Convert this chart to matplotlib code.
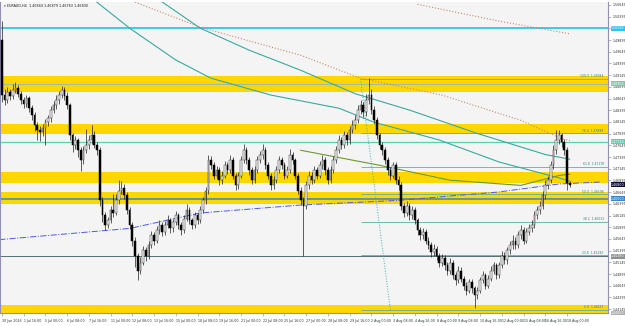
import numpy as np
import matplotlib
matplotlib.use('Agg')
import matplotlib.pyplot as plt
import matplotlib.transforms as mtransforms

# EURAUD H4 candles (30 Jun 2016 08:00 .. 18 Aug 2016 04:00)
closes = [1.4872, 1.4861, 1.4878, 1.4870, 1.4882, 1.4887, 1.4874, 1.4861, 1.4852, 1.4865,
          1.4844, 1.4829, 1.4808, 1.4797, 1.4793, 1.4801, 1.4814, 1.4822, 1.4840, 1.4850,
          1.4861, 1.4872, 1.4882, 1.4870, 1.4850, 1.4786, 1.4765, 1.4775, 1.4754, 1.4733,
          1.4754, 1.4765, 1.4775, 1.4786, 1.4765, 1.4754, 1.4647, 1.4615, 1.4594, 1.4604,
          1.4626, 1.4621, 1.4647, 1.4668, 1.4673, 1.4658, 1.4626, 1.4594, 1.4561, 1.4529,
          1.4497, 1.4514, 1.4540, 1.4529, 1.4551, 1.4572, 1.4561, 1.4583, 1.4594, 1.4579,
          1.4594, 1.4604, 1.4587, 1.4600, 1.4615, 1.4594, 1.4583, 1.4608, 1.4626, 1.4604,
          1.4594, 1.4615, 1.4604, 1.4626, 1.4647, 1.4668, 1.4733, 1.4722, 1.4700, 1.4711,
          1.4690, 1.4700, 1.4722, 1.4711, 1.4733, 1.4700, 1.4679, 1.4700, 1.4733, 1.4754,
          1.4733, 1.4711, 1.4690, 1.4711, 1.4733, 1.4743, 1.4754, 1.4722, 1.4700, 1.4679,
          1.4690, 1.4711, 1.4733, 1.4722, 1.4700, 1.4711, 1.4743, 1.4733, 1.4700, 1.4668,
          1.4647, 1.4636, 1.4679, 1.4700, 1.4690, 1.4711, 1.4700, 1.4722, 1.4733, 1.4711,
          1.4690, 1.4711, 1.4733, 1.4754, 1.4775, 1.4765, 1.4786, 1.4775, 1.4797, 1.4808,
          1.4818, 1.4840, 1.4850, 1.4835, 1.4861, 1.4872, 1.4840, 1.4818, 1.4786, 1.4765,
          1.4754, 1.4733, 1.4711, 1.4700, 1.4722, 1.4690, 1.4679, 1.4636, 1.4621, 1.4636,
          1.4615, 1.4626, 1.4604, 1.4583, 1.4572, 1.4579, 1.4561, 1.4551, 1.4536, 1.4544,
          1.4529, 1.4514, 1.4523, 1.4508, 1.4497, 1.4514, 1.4487, 1.4476, 1.4497, 1.4480,
          1.4465, 1.4454, 1.4472, 1.4459, 1.4444, 1.4454, 1.4476, 1.4487, 1.4465, 1.4480,
          1.4497, 1.4508, 1.4487, 1.4508, 1.4529, 1.4519, 1.4540, 1.4551, 1.4561, 1.4551,
          1.4572, 1.4583, 1.4561, 1.4579, 1.4587, 1.4594, 1.4615, 1.4626, 1.4636, 1.4658,
          1.4679, 1.4690, 1.4722, 1.4754, 1.4775, 1.4786, 1.4771, 1.4754, 1.46844, 1.46800]
highs = [1.5030, 1.4885, 1.4890, 1.4886, 1.4895, 1.4899, 1.4893, 1.4880, 1.4868, 1.4872,
         1.4870, 1.4850, 1.4835, 1.4814, 1.4805, 1.4810, 1.4820, 1.4830, 1.4848, 1.4860,
         1.4872, 1.4880, 1.4892, 1.4890, 1.4878, 1.4855, 1.4792, 1.4784, 1.4780, 1.4760,
         1.4763, 1.4800, 1.4786, 1.4808, 1.4795, 1.4772, 1.4760, 1.4655, 1.4622, 1.4612,
         1.4635, 1.4660, 1.4660, 1.4690, 1.4688, 1.4682, 1.4665, 1.4632, 1.4600, 1.4568,
         1.4535, 1.4525, 1.4550, 1.4548, 1.4560, 1.4582, 1.4580, 1.4592, 1.4604, 1.4600,
         1.4602, 1.4615, 1.4610, 1.4608, 1.4625, 1.4620, 1.4600, 1.4616, 1.4640, 1.4632,
         1.4610, 1.4622, 1.4620, 1.4634, 1.4655, 1.4676, 1.4745, 1.4742, 1.4730, 1.4720,
         1.4718, 1.4710, 1.4732, 1.4728, 1.4745, 1.4740, 1.4706, 1.4708, 1.4742, 1.4768,
         1.4760, 1.4740, 1.4718, 1.4720, 1.4742, 1.4752, 1.4768, 1.4760, 1.4728, 1.4706,
         1.4698, 1.4720, 1.4742, 1.4740, 1.4728, 1.4720, 1.4756, 1.4750, 1.4738, 1.4706,
         1.4675, 1.4654, 1.4688, 1.4710, 1.4708, 1.4720, 1.4718, 1.4732, 1.4744, 1.4740,
         1.4718, 1.4720, 1.4742, 1.4764, 1.4786, 1.4782, 1.4796, 1.4794, 1.4806, 1.4818,
         1.4830, 1.4850, 1.4862, 1.4858, 1.4874, 1.4908, 1.4885, 1.4848, 1.4825, 1.4792,
         1.4772, 1.4760, 1.4740, 1.4718, 1.4730, 1.4728, 1.4698, 1.4686, 1.4642, 1.4645,
         1.4642, 1.4634, 1.4632, 1.4610, 1.4590, 1.4588, 1.4586, 1.4568, 1.4558, 1.4553,
         1.4550, 1.4535, 1.4532, 1.4530, 1.4515, 1.4524, 1.4520, 1.4494, 1.4506, 1.4504,
         1.4486, 1.4472, 1.4480, 1.4478, 1.4465, 1.4462, 1.4484, 1.4496, 1.4492, 1.4488,
         1.4506, 1.4516, 1.4514, 1.4516, 1.4538, 1.4536, 1.4548, 1.4560, 1.4572, 1.4568,
         1.4582, 1.4594, 1.4590, 1.4588, 1.4596, 1.4604, 1.4624, 1.4635, 1.4646, 1.4668,
         1.4690, 1.4700, 1.4732, 1.4765, 1.4797, 1.4797, 1.4792, 1.4778, 1.4760, 1.46879]
lows = [1.4858, 1.4850, 1.4855, 1.4862, 1.4864, 1.4876, 1.4868, 1.4853, 1.4845, 1.4847,
        1.4836, 1.4819, 1.4795, 1.4776, 1.4773, 1.4785, 1.4766, 1.4806, 1.4815, 1.4833,
        1.4843, 1.4852, 1.4865, 1.4862, 1.4842, 1.4777, 1.4750, 1.4757, 1.4740, 1.4710,
        1.4725, 1.4748, 1.4757, 1.4768, 1.4758, 1.4745, 1.4636, 1.4600, 1.4583, 1.4588,
        1.4598, 1.4612, 1.4615, 1.4640, 1.4660, 1.4650, 1.4618, 1.4585, 1.4550, 1.4505,
        1.4476, 1.4490, 1.4508, 1.4518, 1.4522, 1.4545, 1.4552, 1.4556, 1.4576, 1.4570,
        1.4572, 1.4588, 1.4578, 1.4580, 1.4594, 1.4586, 1.4574, 1.4578, 1.4602, 1.4596,
        1.4585, 1.4588, 1.4596, 1.4598, 1.4620, 1.4640, 1.4660, 1.4714, 1.4692, 1.4693,
        1.4680, 1.4683, 1.4695, 1.4703, 1.4705, 1.4692, 1.4670, 1.4672, 1.4694, 1.4727,
        1.4725, 1.4702, 1.4682, 1.4684, 1.4705, 1.4726, 1.4736, 1.4714, 1.4692, 1.4670,
        1.4672, 1.4684, 1.4705, 1.4714, 1.4692, 1.4694, 1.4705, 1.4725, 1.4692, 1.4660,
        1.4638, 1.4529, 1.4628, 1.4672, 1.4682, 1.4684, 1.4692, 1.4694, 1.4715, 1.4702,
        1.4682, 1.4684, 1.4705, 1.4726, 1.4748, 1.4757, 1.4758, 1.4766, 1.4768, 1.4790,
        1.4800, 1.4812, 1.4832, 1.4826, 1.4828, 1.4852, 1.4832, 1.4810, 1.4778, 1.4757,
        1.4745, 1.4724, 1.4702, 1.4690, 1.4694, 1.4682, 1.4670, 1.4626, 1.4612, 1.4614,
        1.4606, 1.4608, 1.4596, 1.4574, 1.4563, 1.4565, 1.4553, 1.4542, 1.4527, 1.4529,
        1.4520, 1.4505, 1.4507, 1.4499, 1.4488, 1.4490, 1.4478, 1.4466, 1.4470, 1.4472,
        1.4456, 1.4445, 1.4448, 1.4450, 1.4418, 1.4436, 1.4448, 1.4470, 1.4458, 1.4460,
        1.4474, 1.4490, 1.4480, 1.4482, 1.4502, 1.4510, 1.4512, 1.4533, 1.4544, 1.4542,
        1.4545, 1.4565, 1.4553, 1.4555, 1.4572, 1.4580, 1.4588, 1.4608, 1.4618, 1.4628,
        1.4650, 1.4671, 1.4684, 1.4715, 1.4746, 1.4768, 1.4762, 1.4745, 1.4669, 1.46763]
first_open = 1.4990

time_labels = ['30 Jun 2016', '1 Jul 16:00', '5 Jul 00:00', '6 Jul 08:00', '7 Jul 16:00',
               '11 Jul 00:00', '12 Jul 08:00', '13 Jul 16:00', '15 Jul 00:00', '18 Jul 08:00',
               '19 Jul 16:00', '21 Jul 00:00', '22 Jul 08:00', '25 Jul 16:00', '27 Jul 00:00',
               '28 Jul 08:00', '29 Jul 16:00', '2 Aug 00:00', '3 Aug 08:00', '4 Aug 16:00',
               '8 Aug 00:00', '9 Aug 08:00', '10 Aug 16:00', '12 Aug 00:00', '15 Aug 08:00',
               '16 Aug 16:00', '18 Aug 00:00']

# horizontal levels
cyan_level = 1.5015
blue_level = 1.4650
teal_level = 1.4772
green_level = 1.4896
gray_level = 1.4528
zones = [(1.4879, 1.4913), (1.4788, 1.4810), (1.4684, 1.4707), (1.4639, 1.4665), (1.4407, 1.4424)]

# fibonacci retracement (1 Aug high -> 10 Aug low)
fib_ratios = ['100.0', '76.4', '61.8', '50.0', '38.2', '23.6', '0.0']
fib_prices = [1.49064, 1.47899, 1.47178, 1.46596, 1.46013, 1.45292, 1.44127]
fib_start = 132
fib_diag_x = [132, 143]
fib_diag_y = [1.4906, 1.4413]

# moving averages (bar index, price)
ma1_x = [34, 47, 64, 77, 99, 124, 137, 161, 183, 205, 209]
ma1_y = [1.5075, 1.5015, 1.4947, 1.4908, 1.4872, 1.4844, 1.4814, 1.4776, 1.4729, 1.4695, 1.4688]
ma2_x = [58, 73, 91, 110, 130, 150, 175, 200, 209]
ma2_y = [1.5075, 1.5015, 1.4968, 1.4925, 1.4875, 1.4840, 1.4790, 1.4745, 1.4735]
ma3_x = [110, 139, 165, 191, 205, 209]
ma3_y = [1.4754, 1.4722, 1.4690, 1.4679, 1.4700, 1.4703]
ma4_x = [47, 73, 110, 132, 162, 191, 206, 209]
ma4_y = [1.5075, 1.5017, 1.4957, 1.4908, 1.4872, 1.4818, 1.4779, 1.4775]
ma5_x = [153, 183, 209]
ma5_y = [1.5066, 1.5030, 1.5003]
ma6_x = [-1, 47, 73, 110, 146, 183, 205, 220]
ma6_y = [1.4563, 1.4587, 1.4620, 1.4637, 1.4647, 1.4665, 1.4682, 1.4686]

opens = [first_open] + closes[:-1]
o = np.array(opens)
c = np.array(closes)
h = np.array(highs)
l = np.array(lows)
x = np.arange(len(c))

fig = plt.figure(figsize=(6.25, 3.26), dpi=100)
fig.patch.set_facecolor('white')
ax = fig.add_axes([0.0, 13 / 326, 608 / 625, 311 / 326])
ax.set_facecolor('#f4f4f4')

for lo, hi in zones:
    ax.axhspan(lo, hi, color='#ffd700', lw=0, zorder=1)

ax.axhline(cyan_level, color='#33c3f0', lw=1.3, zorder=2)
ax.axhline(green_level, color='#9fbfa0', lw=0.8, zorder=2)
ax.axhline(teal_level, color='#5fcfb0', lw=0.9, zorder=2)
ax.axhline(blue_level, color='#3a86c8', lw=1.1, zorder=2)
ax.axhline(gray_level, color='#507070', lw=0.7, zorder=2)

for r, p in zip(fib_ratios, fib_prices):
    ax.hlines(p, fib_start, 223.1, color='#5fb0a0', lw=0.6, zorder=2)
    ax.text(221.5, p + 0.0002, f'{r}  {p:.5f}', fontsize=2.2, color='#2f7f7f',
            ha='right', va='bottom', zorder=6)
ax.plot(fib_diag_x, fib_diag_y, color='#40b0b0', lw=0.7, ls=':', zorder=2)

ax.plot(ma1_x, ma1_y, color='#3aa8a0', lw=0.8, zorder=2)
ax.plot(ma2_x, ma2_y, color='#3aa8a0', lw=0.8, zorder=2)
ax.plot(ma3_x, ma3_y, color='#6a9a30', lw=0.8, zorder=2)
ax.plot(ma4_x, ma4_y, color='#c88870', lw=0.8, ls=':', zorder=2)
ax.plot(ma5_x, ma5_y, color='#c88870', lw=0.8, ls=':', zorder=2)
ax.plot(ma6_x, ma6_y, color='#4a5ae0', lw=0.7, ls='-.', zorder=2)

# candles
up = c >= o
ax.vlines(x, l, h, color='#202020', lw=0.5, zorder=3)
ax.bar(x[up], (c - o)[up], bottom=o[up], width=0.62, color='#fafafa',
       edgecolor='#303030', lw=0.35, zorder=4)
ax.bar(x[~up], (o - c)[~up], bottom=c[~up], width=0.62, color='black',
       edgecolor='black', lw=0.35, zorder=4)

ax.set_xlim(-0.7, 223.1)
ax.set_ylim(1.44063, 1.50709)

# price scale on the right
yt = np.arange(1.44145, 1.5066, 0.0025)
ax.yaxis.tick_right()
ax.set_yticks(yt)
ax.set_yticklabels([f'{v:.5f}' for v in yt])
ax.tick_params(axis='y', labelsize=2.3, length=2, width=0.4, pad=1.2,
               colors='#8080a8', labelcolor='#303030')

ax.set_xticks(np.arange(0, 209, 8))
ax.set_xticklabels(time_labels, ha='left')
ax.tick_params(axis='x', labelsize=2.3, length=2, width=0.4, pad=2,
               colors='#8080a8', labelcolor='#303030')

for s in ax.spines.values():
    s.set_color('#9090b8')
    s.set_linewidth(0.8)
ax.spines['top'].set_visible(False)

# coloured price tags on the scale
tr = mtransforms.blended_transform_factory(ax.transAxes, ax.transData)
tags = [(cyan_level, '#33c3f0', 'white'), (green_level, '#80c8a8', 'white'),
        (teal_level, '#5fcfb0', 'white'), (closes[-1], '#101040', 'white'),
        (blue_level, '#3a86c8', 'white'), (gray_level, '#909090', 'white'),
        (1.44063, '#b0b0b0', 'white')]
for p, bg, fg in tags:
    ax.text(1.005, p, f'{p:.5f}', transform=tr, fontsize=2.3, color=fg, ha='left',
            va='center', zorder=7, clip_on=False,
            bbox=dict(boxstyle='square,pad=0.15', fc=bg, ec='none'))

ax.text(0.006, 0.992, '\u25be EURAUD,H4  1.46844 1.46879 1.46763 1.46800', transform=ax.transAxes,
        fontsize=2.4, color='#202020', ha='left', va='top', zorder=7)

fig.savefig('out.png', dpi=100, facecolor='white')
